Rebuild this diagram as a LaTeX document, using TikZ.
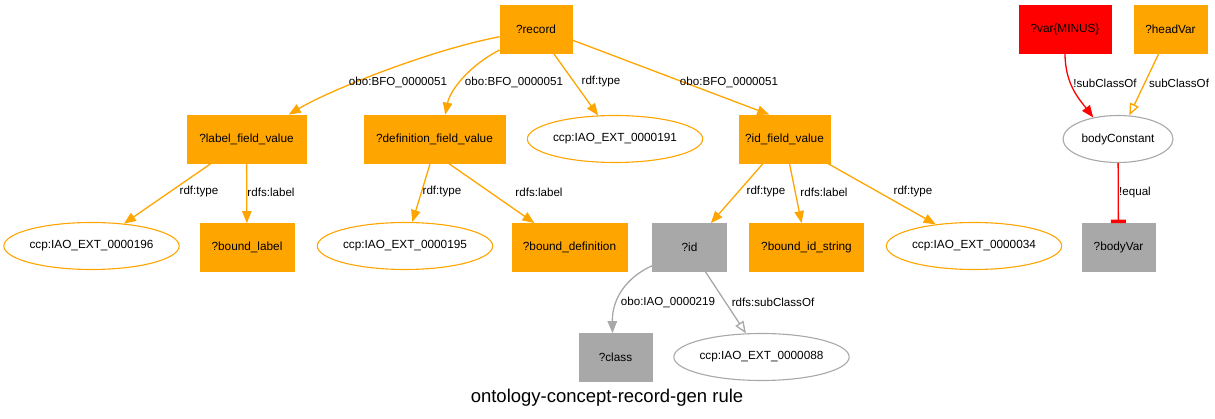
\documentclass[tikz,border=0pt]{standalone}
\usepackage{fontspec}
\setmainfont{Liberation Sans}
\usetikzlibrary{arrows.meta,shapes.geometric}
\definecolor{gvorange}{HTML}{FFA500}
\definecolor{gvgray}{HTML}{A8A8A8}
\definecolor{gvred}{HTML}{FF0000}
\begin{document}
\begin{tikzpicture}[x=1pt,y=-1pt,
  nfont/.style={font=\fontsize{11.8}{14}\selectfont},
  box/.style={rectangle,draw=#1,fill=#1,line width=0.8pt,minimum height=48pt,inner sep=0pt,nfont},
  ell/.style={ellipse,draw=#1,line width=1.1pt,minimum height=47pt,inner sep=0pt,nfont},
  lbl/.style={inner sep=0pt,font=\fontsize{11.6}{14}\selectfont},
  conn/.style={draw=#1,line width=1.3pt,-{Triangle[length=12pt,width=9.5pt]}},
  openconn/.style={draw=#1,line width=1.3pt,-{Triangle[open,length=12pt,width=9.5pt]}},
  teeconn/.style={draw=#1,line width=1.3pt,-{Rectangle[length=3.5pt,width=15pt]}}]
\useasboundingbox (0,0) rectangle (1215,419);
% nodes
\node[box=gvorange,minimum width=72pt] (record) at (536,29) {?record};
\node[box=gvorange,minimum width=119pt] (lfv) at (246.5,139) {?label\_field\_value};
\node[box=gvorange,minimum width=141pt] (dfv) at (434.5,139) {?definition\_field\_value};
\node[ell=gvorange,minimum width=170pt] (c191) at (615,139) {ccp:IAO\_EXT\_0000191};
\node[box=gvorange,minimum width=91pt] (idf) at (784.5,139) {?id\_field\_value};
\node[box=gvred,minimum width=92pt] (var) at (1065,29) {?var\{MINUS\}};
\node[box=gvorange,minimum width=73pt] (head) at (1170.5,29) {?headVar};
\node[ell=gvgray,minimum width=110pt] (bc) at (1118,139) {bodyConstant};
\node[box=gvgray,minimum width=73pt] (bodyvar) at (1118.5,247.5) {?bodyVar};
\node[ell=gvorange,minimum width=172pt] (c196) at (91.5,246) {ccp:IAO\_EXT\_0000196};
\node[box=gvorange,minimum width=94pt] (blabel) at (247,247.5) {?bound\_label};
\node[ell=gvorange,minimum width=172pt] (c195) at (405,246) {ccp:IAO\_EXT\_0000195};
\node[box=gvorange,minimum width=115pt] (bdef) at (569.5,247.5) {?bound\_definition};
\node[box=gvgray,minimum width=74pt] (id) at (689.5,247.5) {?id};
\node[box=gvorange,minimum width=114pt] (bis) at (806.5,247.5) {?bound\_id\_string};
\node[ell=gvorange,minimum width=172pt] (c034) at (974,246) {ccp:IAO\_EXT\_0000034};
\node[box=gvgray,minimum width=73pt] (class) at (615.5,357.5) {?class};
\node[ell=gvgray,minimum width=171pt] (c088) at (761.5,357) {ccp:IAO\_EXT\_0000088};
% connectors
\draw[conn=gvorange] (record.192) .. controls (430,50) and (330,90) .. (lfv.30);
\draw[conn=gvorange] (record.210) .. controls (470,65) and (450,90) .. (dfv.66);
\draw[conn=gvorange] (record) -- (c191);
\draw[conn=gvorange] (record.-17) -- (idf.122);
\draw[conn=gvorange] (lfv) -- (c196);
\draw[conn=gvorange] (lfv) -- (blabel);
\draw[conn=gvorange] (dfv.-100) -- (c195);
\draw[conn=gvorange] (dfv.-60) -- (bdef);
\draw[conn=gvorange] (idf) -- (id);
\draw[conn=gvorange] (idf) -- (bis);
\draw[conn=gvorange] (idf) -- (c034);
\draw[conn=gvgray] (id.206) .. controls (625,278) and (612,300) .. (class.97);
\draw[openconn=gvgray] (id) -- (c088);
\draw[conn=gvred] (var.south) .. controls (1065,85) and (1080,100) .. (bc.139);
\draw[openconn=gvorange] (head) -- (bc);
\draw[teeconn=gvred] (bc) -- (bodyvar);
% labels
\node[lbl] (l1) at (398,82) {obo:BFO\_0000051};
\node[lbl] (l2) at (514,82) {obo:BFO\_0000051};
\node[lbl] (l3) at (601,82) {rdf:type};
\node[lbl] (l4) at (729,82) {obo:BFO\_0000051};
\node[lbl] (l5) at (199,192) {rdf:type};
\node[lbl] (l6) at (271,192) {rdfs:label};
\node[lbl] (l7) at (442,192) {rdf:type};
\node[lbl] (l8) at (539,192) {rdfs:label};
\node[lbl] (l9) at (766,192) {rdf:type};
\node[lbl] (l10) at (824,192) {rdfs:label};
\node[lbl] (l11) at (913,192) {rdf:type};
\node[lbl] (l12) at (668,302) {obo:IAO\_0000219};
\node[lbl] (l13) at (773,302) {rdfs:subClassOf};
\node[lbl] (l14) at (1105,83) {!subClassOf};
\node[lbl] (l15) at (1179,83) {subClassOf};
\node[lbl] (l16) at (1135,193) {!equal};
\node[anchor=base,inner sep=0pt,font=\fontsize{18.5}{22}\selectfont] (title) at (607,402) {ontology-concept-record-gen rule};
\end{tikzpicture}
\end{document}
